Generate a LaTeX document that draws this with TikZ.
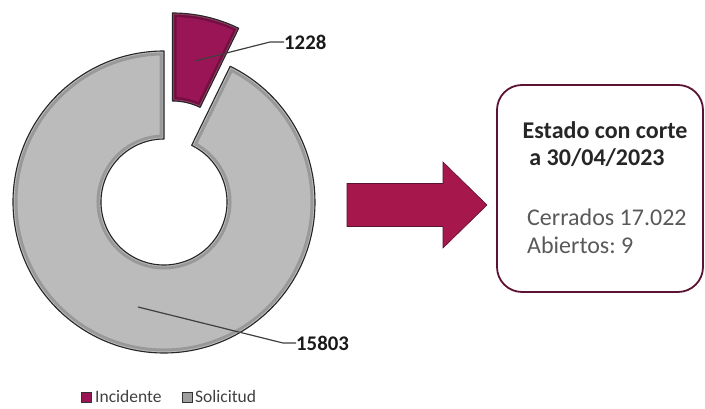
\documentclass[tikz,border=0pt]{standalone}
\usepackage{fontspec}
\setmainfont{Carlito}
\definecolor{inc}{HTML}{9A1556}
\definecolor{arr}{HTML}{A6184C}
\definecolor{boxc}{HTML}{5C1232}
\definecolor{sol}{HTML}{BBBBBB}
\definecolor{lead}{HTML}{3F3F3F}
\tikzset{
  slice/.style={draw=black!85, line width=1.1pt, line join=round},
  leader/.style={draw=lead, line width=1.2pt},
  pielabel/.style={font=\fontsize{20.8}{22}\selectfont\bfseries, text=black!90, inner sep=0pt, anchor=west},
  boxtitle/.style={font=\fontsize{24}{26}\selectfont\bfseries, text=black!85, inner sep=0pt},
  boxtext/.style={font=\fontsize{24}{26}\selectfont, text=black!65, inner sep=0pt, anchor=west},
  legtext/.style={font=\fontsize{17.5}{19}\selectfont, text=black!75, inner sep=0pt, anchor=base west},
  legsq/.style={draw=black!80, line width=0.8pt, minimum size=10pt, inner sep=0pt}
}
\begin{document}
\frenchspacing
\begin{tikzpicture}[x=1pt,y=1pt]
\useasboundingbox (0,0) rectangle (705,409);
% --- Solicitud slice (gray ring) ---
\def\graypath{([shift={(164,207)}]90:151) arc[start angle=90,end angle=424,radius=151]
  -- ([shift={(164,207)}]64:63) arc[start angle=64,end angle=-270,radius=63] -- cycle}
\fill[sol] \graypath;
\begin{scope}
  \clip \graypath;
  \draw[black, opacity=0.18, line width=9pt] \graypath;
  \draw[white, opacity=0.35, line width=3pt] \graypath;
\end{scope}
\draw[slice] \graypath;
% --- Incidente slice (exploded) ---
\def\incpath{([shift={(172.5,245)}]64:151) arc[start angle=64,end angle=90,radius=151]
  -- ([shift={(172.5,245)}]90:63) arc[start angle=90,end angle=64,radius=63] -- cycle}
\fill[inc] \incpath;
\begin{scope}
  \clip \incpath;
  \draw[black, opacity=0.25, line width=8pt] \incpath;
  \draw[white, opacity=0.2, line width=3pt] \incpath;
\end{scope}
\draw[slice] \incpath;
% --- leader lines and labels ---
\node[pielabel] (l1228) at (284,367) {1228};
\coordinate (s1228) at (195,348);
\coordinate (k1228) at (270,367);
\draw[leader] (s1228) -- (k1228) -- (l1228.west);
\node[pielabel] (l15803) at (296,66) {15803};
\coordinate (s15803) at (138,102);
\coordinate (k15803) at (283,66);
\draw[leader] (s15803) -- (k15803) -- (l15803.west);
% --- arrow ---
\fill[arr, draw=boxc, line width=0.6pt, line join=miter]
  (347,182.5) -- (443,182.5) -- (443,161) -- (487,204) -- (443,247) -- (443,225.5) -- (347,225.5) -- cycle;
% --- box ---
\node[draw=boxc, line width=1.8pt, rounded corners=25pt, minimum width=206pt, minimum height=207pt, inner sep=0pt] (box) at (600,220.5) {};
\node[boxtitle] (t1) at (605,279) {Estado con corte};
\node[boxtitle] (t2) at (597,251) {a 30/04/2023};
\node[boxtext] (t3) at (527,192) {Cerrados 17.022};
\node[boxtext] (t4) at (527,164) {Abiertos: 9};
% --- legend ---
\node[legsq, fill=inc] (q1) at (86,12) {};
\node[legtext] (n1) at (95,6) {Incidente};
\node[legsq, fill=sol!85!black] (q2) at (187.5,12) {};
\node[legtext] (n2) at (195,6) {Solicitud};
\end{tikzpicture}
\end{document}
